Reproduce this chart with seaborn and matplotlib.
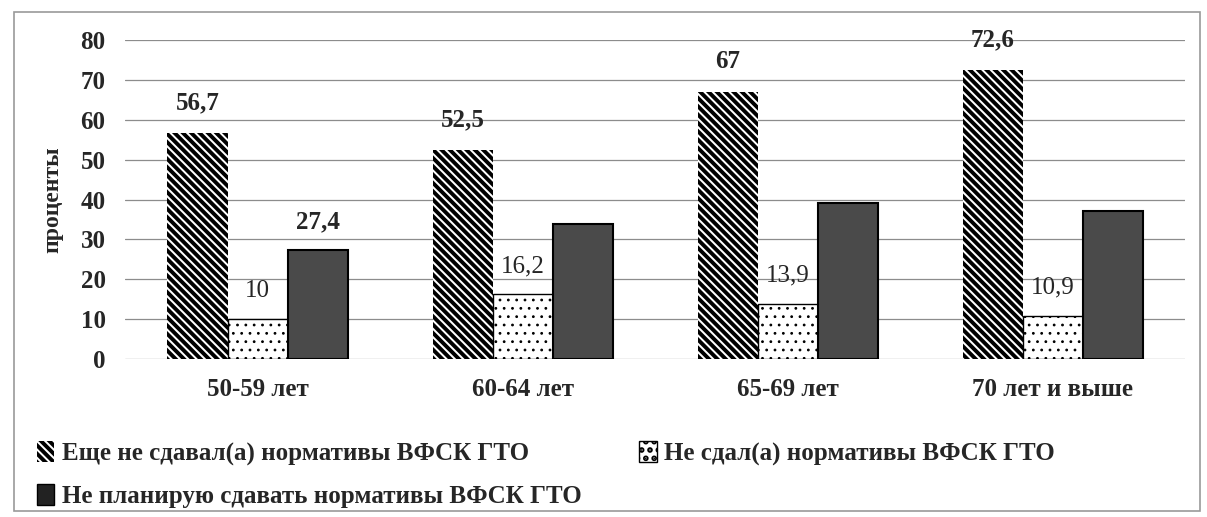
import matplotlib
matplotlib.use('Agg')
import matplotlib.pyplot as plt
import seaborn as sns
import pandas as pd
from matplotlib.patches import Patch, Rectangle

groups = ['50-59 лет', '60-64 лет', '65-69 лет', '70 лет и выше']
series = ['Еще не сдавал(а) нормативы ВФСК ГТО',
          'Не сдал(а) нормативы ВФСК ГТО',
          'Не планирую сдавать нормативы ВФСК ГТО']
not_yet = [56.7, 52.5, 67, 72.6]
failed = [10, 16.2, 13.9, 10.9]
not_planning = [27.4, 33.8, 39.1, 37.1]
label_not_yet = ['56,7', '52,5', '67', '72,6']
label_failed = ['10', '16,2', '13,9', '10,9']
label_not_planning = ['27,4', '', '', '']

sns.set_style('white')
plt.rcParams['font.family'] = ['Liberation Serif', 'DejaVu Serif']
plt.rcParams['hatch.linewidth'] = 2.8

df = pd.DataFrame({
    'group': groups * 3,
    'series': [series[0]] * 4 + [series[1]] * 4 + [series[2]] * 4,
    'value': not_yet + failed + not_planning,
})

fig = plt.figure(figsize=(12.07, 5.17), dpi=100)
ax = fig.add_axes([0.1036, 0.3056, 0.8784, 0.617])

sns.barplot(data=df, x='group', y='value', hue='series', order=groups,
            hue_order=series, ax=ax, width=0.68, legend=False,
            palette=['white', 'white', '#4a4a4a'], saturation=1)

stripe = '\\' * 4
styles = [(stripe, 'white', 0.0), ('..', 'white', 1.0), ('', '#4a4a4a', 1.5)]
for cont, (hatch, fc, lw) in zip(ax.containers, styles):
    for bar in cont:
        bar.set_facecolor(fc)
        bar.set_edgecolor('black')
        bar.set_hatch(hatch)
        bar.set_linewidth(lw)
        if hatch == '..':
            if hasattr(bar, 'set_hatch_linewidth'):
                bar.set_hatch_linewidth(0.8)
            bar._hatch_linewidth = 0.8

label_sets = [(label_not_yet, 'bold', 7.5), (label_failed, 'normal', 7.0),
              (label_not_planning, 'bold', 7.0)]
for cont, (labels, weight, off) in zip(ax.containers, label_sets):
    for bar, lab in zip(cont, labels):
        if not lab:
            continue
        ax.text(bar.get_x() + bar.get_width() / 2, bar.get_height() + off, lab,
                ha='center', va='center', fontsize=18, fontweight=weight)

ax.set_ylim(0, 80)
ax.set_yticks(range(0, 81, 10))
ax.set_xlim(-0.5, 3.5)
ax.yaxis.grid(True, color='#8c8c8c', linewidth=0.9)
ax.set_axisbelow(True)
for s in ax.spines.values():
    s.set_visible(False)
ax.tick_params(axis='both', length=0, labelsize=18)
ax.tick_params(axis='y', pad=14)
ax.tick_params(axis='x', pad=14)
for t in ax.get_xticklabels() + ax.get_yticklabels():
    t.set_fontweight('bold')
ax.set_xlabel('')
ax.set_ylabel('проценты', fontsize=17, fontweight='bold', labelpad=12)

handles = [Patch(facecolor='white', edgecolor='black', hatch=stripe, linewidth=0),
           Patch(facecolor='#222222', edgecolor='black'),
           Patch(facecolor='white', edgecolor='black', hatch='..', linewidth=1)]
names = [series[0], series[2], series[1]]
leg = fig.legend(handles, names, loc='upper left', bbox_to_anchor=(0.012, 0.19),
                 ncol=2, frameon=False, handlelength=0.7, handleheight=0.9,
                 handletextpad=0.3, columnspacing=2.3, labelspacing=0.75,
                 prop={'size': 18, 'weight': 'bold'})

fig.patches.append(Rectangle((0.012, 0.012), 0.982, 0.965, transform=fig.transFigure,
                             fill=False, edgecolor='#9a9a9a', linewidth=1.2))

fig.savefig('out.png', dpi=100)
